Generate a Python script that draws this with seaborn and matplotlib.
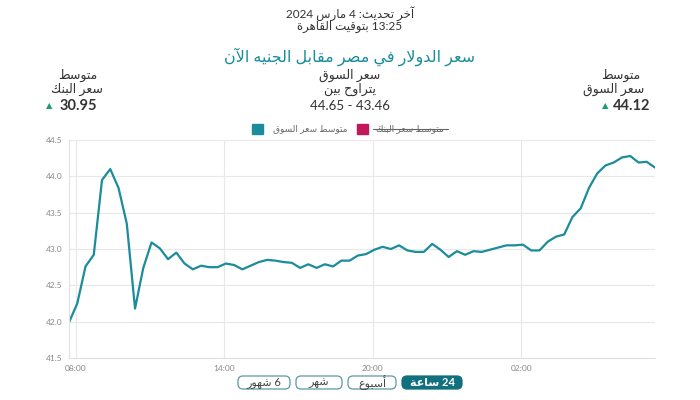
import re

import matplotlib
matplotlib.use('Agg')
import matplotlib.dates as mdates
import matplotlib.pyplot as plt
import pandas as pd
import seaborn as sns
from matplotlib.patches import FancyBboxPatch, Rectangle

# Data (20 minute steps)
start_time = '2024-03-03 07:44'
market_avg = [
    41.99, 42.25, 42.76, 42.92, 43.95, 44.10, 43.84, 43.35, 42.18, 42.74,
    43.09, 43.01, 42.86, 42.95, 42.80, 42.72, 42.77, 42.75, 42.75, 42.80,
    42.78, 42.72, 42.77, 42.82, 42.85, 42.84, 42.82, 42.81, 42.74, 42.79,
    42.74, 42.79, 42.76, 42.84, 42.84, 42.91, 42.93, 42.99, 43.03, 43.00,
    43.05, 42.98, 42.96, 42.96, 43.07, 42.99, 42.89, 42.97, 42.92, 42.97,
    42.96, 42.99, 43.02, 43.05, 43.05, 43.06, 42.98, 42.98, 43.10, 43.17,
    43.20, 43.44, 43.56, 43.84, 44.04, 44.15, 44.19, 44.26, 44.28, 44.19,
    44.20, 44.12,
]
y_ticks = [41.5, 42.0, 42.5, 43.0, 43.5, 44.0, 44.5]
x_tick_hours = [2, 8, 14, 20]

bank_value = '30.95'
market_value = '44.12'
market_range = '44.65 - 43.46'
buttons = ['6 شهور', 'شهر', 'أسبوع', '24 ساعة']

TEAL = '#1a8c9c'
DARK_TEAL = '#11707e'
CRIMSON = '#c2185b'
GREEN = '#1a9e6e'
TEXT = '#333333'

# --- minimal Arabic shaping (matplotlib has no complex text layout) ---
FORMS = {
    'ء': (0xFE80, 1), 'آ': (0xFE81, 2), 'أ': (0xFE83, 2), 'ؤ': (0xFE85, 2),
    'إ': (0xFE87, 2), 'ئ': (0xFE89, 4), 'ا': (0xFE8D, 2), 'ب': (0xFE8F, 4),
    'ة': (0xFE93, 2), 'ت': (0xFE95, 4), 'ث': (0xFE99, 4), 'ج': (0xFE9D, 4),
    'ح': (0xFEA1, 4), 'خ': (0xFEA5, 4), 'د': (0xFEA9, 2), 'ذ': (0xFEAB, 2),
    'ر': (0xFEAD, 2), 'ز': (0xFEAF, 2), 'س': (0xFEB1, 4), 'ش': (0xFEB5, 4),
    'ص': (0xFEB9, 4), 'ض': (0xFEBD, 4), 'ط': (0xFEC1, 4), 'ظ': (0xFEC5, 4),
    'ع': (0xFEC9, 4), 'غ': (0xFECD, 4), 'ف': (0xFED1, 4), 'ق': (0xFED5, 4),
    'ك': (0xFED9, 4), 'ل': (0xFEDD, 4), 'م': (0xFEE1, 4), 'ن': (0xFEE5, 4),
    'ه': (0xFEE9, 4), 'و': (0xFEED, 2), 'ى': (0xFEEF, 2), 'ي': (0xFEF1, 4),
}
LAM_ALEF = {'آ': 0xFEF5, 'أ': 0xFEF7, 'إ': 0xFEF9, 'ا': 0xFEFB}


def shape(text):
    items = []
    i = 0
    while i < len(text):
        c = text[i]
        if c == 'ل' and i + 1 < len(text) and text[i + 1] in LAM_ALEF:
            items.append((LAM_ALEF[text[i + 1]], 2))
            i += 2
            continue
        items.append(FORMS.get(c, (c, 0)))
        i += 1
    out = []
    for k, (base, n) in enumerate(items):
        if n < 2:
            out.append(chr(base) if n else base)
            continue
        prev_j = k > 0 and items[k - 1][1] == 4
        next_j = n == 4 and k + 1 < len(items) and items[k + 1][1] >= 2
        if prev_j and next_j:
            off = 3
        elif next_j:
            off = 2
        elif prev_j:
            off = 1
        else:
            off = 0
        out.append(chr(base + off))
    return ''.join(out)


def rtl(text):
    # shape, then lay out right-to-left keeping number runs left-to-right
    s = shape(text)[::-1]
    return re.sub(r'[0-9][0-9.:]*', lambda m: m.group(0)[::-1], s)


sns.set_theme(style='whitegrid')
plt.rcParams['font.family'] = ['Lato', 'DejaVu Sans']

fig = plt.figure(figsize=(7, 4), dpi=100)

# overlay in pixel units for the header, legend and buttons
ov = fig.add_axes([0, 0, 1, 1])
ov.set_xlim(0, 700)
ov.set_ylim(400, 0)
ov.axis('off')

ov.text(350, 14, rtl('آخر تحديث: 4 مارس 2024'), ha='center', va='center',
        fontsize=8.5, color=TEXT)
ov.text(350, 27, rtl('13:25 بتوقيت القاهرة'), ha='center', va='center',
        fontsize=8.5, color=TEXT)
ov.text(350, 57, rtl('سعر الدولار في مصر مقابل الجنيه الآن'), ha='center',
        va='center', fontsize=11.5, color=TEAL)

# summary blocks
ov.text(78, 75, rtl('متوسط'), ha='center', va='center', fontsize=9, color=TEXT)
ov.text(77, 89, rtl('سعر البنك'), ha='center', va='center', fontsize=9, color=TEXT)
ov.text(49, 106, '▲', ha='center', va='center', fontsize=6, color=GREEN)
ov.text(60, 106, bank_value, ha='left', va='center', fontsize=10.5,
        fontweight='bold', color=TEXT)

ov.text(350, 75, rtl('سعر السوق'), ha='center', va='center', fontsize=9, color=TEXT)
ov.text(350, 89, rtl('يتراوح بين'), ha='center', va='center', fontsize=9, color=TEXT)
ov.text(350, 106, market_range, ha='center', va='center', fontsize=9.5, color=TEXT)

ov.text(621, 75, rtl('متوسط'), ha='center', va='center', fontsize=9, color=TEXT)
ov.text(614, 89, rtl('سعر السوق'), ha='center', va='center', fontsize=9, color=TEXT)
ov.text(605, 106, '▲', ha='center', va='center', fontsize=6, color=GREEN)
ov.text(613, 106, market_value, ha='left', va='center', fontsize=10.5,
        fontweight='bold', color=TEXT)

# legend
ov.add_patch(Rectangle((252, 124), 11, 10, color=TEAL))
ov.text(310, 129, rtl('متوسط سعر السوق'), ha='center', va='center',
        fontsize=6.5, color='#666666')
ov.add_patch(Rectangle((357, 124), 11, 10, color=CRIMSON))
ov.text(410, 129, rtl('متوسط سعر البنك'), ha='center', va='center',
        fontsize=6.5, color='#666666')
ov.plot([373, 448], [129, 129], color='#666666', lw=0.8)

# range buttons
button_spans = [(238, 290), (296, 342), (348, 396), (402, 462)]
for label, (x0, x1) in zip(buttons, button_spans):
    active = label == buttons[-1]
    ov.add_patch(FancyBboxPatch((x0, 376), x1 - x0, 13,
                                boxstyle='round,pad=0,rounding_size=5',
                                mutation_aspect=1, lw=0.9,
                                ec=DARK_TEAL if active else '#5a9aa3',
                                fc=DARK_TEAL if active else 'white'))
    ov.text((x0 + x1) / 2, 382.5, rtl(label), ha='center', va='center',
            fontsize=8, color='white' if active else '#444444',
            fontweight='bold' if active else 'normal')

# chart
ax = fig.add_axes([69 / 700, 42 / 400, 586 / 700, 218 / 400])
df = pd.DataFrame({
    'time': pd.date_range(start_time, periods=len(market_avg), freq='20min'),
    'value': market_avg,
})
sns.lineplot(data=df, x='time', y='value', ax=ax, color=TEAL, linewidth=1.6)

ax.set_xlim(df['time'].iloc[0], df['time'].iloc[-1])
ax.set_ylim(y_ticks[0], y_ticks[-1])
ax.set_yticks(y_ticks)
ax.set_yticklabels([f'{v:.1f}' for v in y_ticks])
ax.xaxis.set_major_locator(mdates.HourLocator(byhour=x_tick_hours))
ax.xaxis.set_major_formatter(mdates.DateFormatter('%H:%M'))
ax.set_xlabel('')
ax.set_ylabel('')
ax.set_facecolor('none')
ax.grid(True, color='#e8e8e8', lw=0.8)
ax.tick_params(axis='both', length=0, labelsize=6, labelcolor='#888888', pad=5)
for side in ['top', 'right']:
    ax.spines[side].set_visible(False)
for side in ['left', 'bottom']:
    ax.spines[side].set_color('#e0e0e0')
    ax.spines[side].set_linewidth(0.8)

fig.savefig('out.png', dpi=100, facecolor='white')
